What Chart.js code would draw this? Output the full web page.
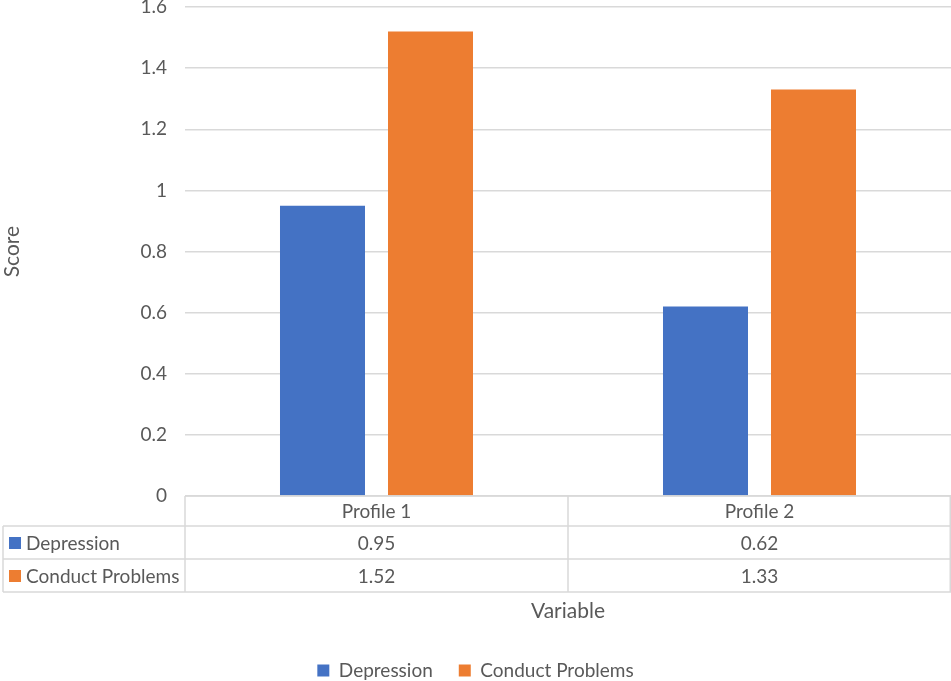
<!DOCTYPE html>
<html>
<head>
<meta charset="utf-8">
<script src="https://cdn.jsdelivr.net/npm/chart.js@4"></script>
<style>
  html, body { margin: 0; padding: 0; background: #fff; }
  #wrap { width: 951px; height: 681px; position: relative; }
</style>
</head>
<body>
<div id="wrap"><canvas id="scoreChart"></canvas></div>
<script>
var categories = ['Profile 1', 'Profile 2'];
var seriesNames = ['Depression', 'Conduct Problems'];
var depression = [0.95, 0.62];
var conductProblems = [1.52, 1.33];
var yTicks = [0, 0.2, 0.4, 0.6, 0.8, 1, 1.2, 1.4, 1.6];

var colors = ['#4472C4', '#ED7D31'];
var textColor = '#595959';
var lineColor = '#d9d9d9';
var fontFamily = 'Lato, "Open Sans", sans-serif';

// draws the data table under the plot, aligned to the x scale
var dataTable = {
    id: 'dataTable',
    afterDraw: function(chart) {
        var ctx = chart.ctx;
        var area = chart.chartArea;
        var x = chart.scales.x;
        var left = area.left, right = area.right;
        var mid = (x.getPixelForValue(0) + x.getPixelForValue(1)) / 2;
        var top = area.bottom;
        var rows = [top, top + 30, top + 63, top + 96];
        var tableLeft = 3;
        var values = [depression, conductProblems];

        ctx.save();
        ctx.strokeStyle = lineColor;
        ctx.lineWidth = 1.5;
        ctx.beginPath();
        // horizontal lines
        ctx.moveTo(left, rows[0]); ctx.lineTo(right, rows[0]);
        for (var i = 1; i < rows.length; i++) {
            ctx.moveTo(tableLeft, rows[i]); ctx.lineTo(right, rows[i]);
        }
        // vertical lines
        ctx.moveTo(tableLeft, rows[1]); ctx.lineTo(tableLeft, rows[3]);
        ctx.moveTo(left, rows[0]); ctx.lineTo(left, rows[3]);
        ctx.moveTo(mid, rows[0]); ctx.lineTo(mid, rows[3]);
        ctx.moveTo(right - 0.75, rows[0]); ctx.lineTo(right - 0.75, rows[3]);
        ctx.stroke();

        ctx.font = '19px ' + fontFamily;
        ctx.fillStyle = textColor;
        ctx.textBaseline = 'middle';
        ctx.textAlign = 'center';
        categories.forEach(function(c, i) {
            var cx = x.getPixelForValue(i);
            ctx.fillText(c, cx, (rows[0] + rows[1]) / 2 + 1);
            values.forEach(function(v, s) {
                ctx.fillText(v[i].toFixed(2), cx, (rows[s + 1] + rows[s + 2]) / 2 + 1);
            });
        });
        ctx.textAlign = 'left';
        seriesNames.forEach(function(name, s) {
            var cy = (rows[s + 1] + rows[s + 2]) / 2;
            ctx.fillStyle = colors[s];
            ctx.fillRect(9, cy - 5.5, 12, 12);
            ctx.fillStyle = textColor;
            ctx.fillText(name, 26, cy + 1);
        });
        ctx.restore();
    }
};

var ctx = document.getElementById('scoreChart').getContext('2d');
var scoreChart = new Chart(ctx, {
    type: 'bar',
    data: {
        labels: categories,
        datasets: [{
            label: seriesNames[0],
            data: depression,
            backgroundColor: colors[0]
        }, {
            label: seriesNames[1],
            data: conductProblems,
            backgroundColor: colors[1]
        }]
    },
    options: {
        responsive: true,
        maintainAspectRatio: false,
        animation: false,
        layout: { padding: { top: 0, right: 0, left: 0, bottom: -9 } },
        datasets: {
            bar: { categoryPercentage: 0.564, barPercentage: 0.787 }
        },
        plugins: {
            tooltip: { enabled: false },
            legend: {
                position: 'bottom',
                labels: {
                    color: textColor,
                    font: { family: fontFamily, size: 19 },
                    boxWidth: 12,
                    boxHeight: 12,
                    padding: 26
                }
            }
        },
        scales: {
            x: {
                grid: { display: false, drawTicks: false },
                border: { display: false },
                ticks: { display: false },
                title: {
                    display: true,
                    text: 'Variable',
                    color: textColor,
                    font: { family: fontFamily, size: 21 },
                    padding: { top: 0, bottom: 11 }
                },
                afterFit: function(scale) { scale.height = 139; }
            },
            y: {
                min: 0,
                max: 1.6,
                afterBuildTicks: function(scale) {
                    scale.ticks = yTicks.map(function(v) { return { value: v }; });
                },
                grid: {
                    color: lineColor,
                    lineWidth: 1.5,
                    drawTicks: true,
                    tickLength: 18,
                    tickColor: 'rgba(0,0,0,0)'
                },
                border: { display: false },
                ticks: {
                    color: textColor,
                    padding: 0,
                    font: { family: fontFamily, size: 19, lineHeight: 0.75 },
                    callback: function(v) { return String(v); }
                },
                title: {
                    display: true,
                    text: 'Score',
                    color: textColor,
                    font: { family: fontFamily, size: 21 },
                    padding: { top: 0, bottom: 0 }
                },
                afterFit: function(scale) { scale.width = 185; }
            }
        }
    },
    plugins: [dataTable]
});
</script>
</body>
</html>
